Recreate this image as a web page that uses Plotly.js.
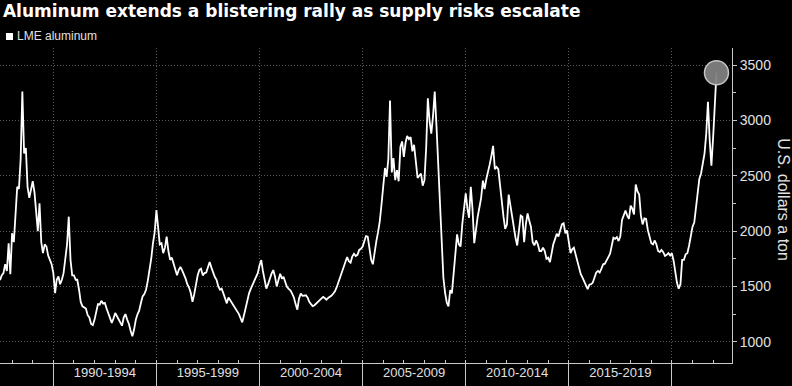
<!DOCTYPE html>
<html>
<head>
<meta charset="utf-8">
<script src="https://cdn.plot.ly/plotly-3.0.1.min.js"></script>
<style>
  html, body { margin: 0; padding: 0; background: #000; }
  #chart { width: 792px; height: 386px; }
</style>
</head>
<body>
<div id="chart"></div>
<script>
// LME aluminum, monthly, U.S. dollars a ton
const startYear = 1987;
const startMonth = 6; // June 1987

const prices1987_1989 = [1557,1600,1620,1700,1640,1890,1610,1980,1900,2160,2400,2380,2650,3260,2700,2750,2400,2300,2380,2450,2350,2200,2000,2250,1900,1800,1880,1860,1780,1740,1700];
const prices1990_1994 = [1620,1440,1560,1590,1520,1560,1620,1740,1880,2130,
                         1740,1600,1600,1560,1560,1470,1360,1320,1310,1300,
                         1240,1220,1160,1150,1200,1280,1340,1335,1370,1345,
                         1350,1300,1260,1220,1170,1210,1260,1230,1200,1165,
                         1145,1220,1250,1200,1160,1100,1050,1110,1200,1250,
                         1280,1350,1410,1430,1470,1550,1640,1750,1890,1990];
const prices1995_1999 = [2190,2050,1880,1890,1800,1850,1950,1820,1740,1760,
                         1710,1640,1600,1650,1675,1645,1610,1570,1520,1490,
                         1440,1360,1430,1530,1600,1650,1660,1600,1620,1625,
                         1670,1720,1670,1625,1585,1560,1500,1470,1480,1437,
                         1400,1347,1400,1375,1340,1315,1295,1275,1250,1210,
                         1175,1240,1310,1400,1440,1480,1515,1545,1575,1620];
const prices2000_2004 = [1690,1738,1640,1560,1480,1520,1580,1615,1648,1590,
                         1500,1560,1615,1570,1587,1540,1497,1478,1465,1435,
                         1400,1340,1290,1390,1435,1415,1415,1420,1400,1360,
                         1340,1322,1330,1345,1355,1372,1388,1405,1395,1380,
                         1396,1406,1418,1436,1458,1495,1540,1590,1632,1680,
                         1705,1765,1728,1715,1770,1795,1775,1785,1830,1840];
const prices2005_2009 = [1860,1915,1955,1950,1840,1740,1700,1830,1910,1990,
                         2090,2240,2380,2570,2490,2650,3180,2530,2660,2460,
                         2550,2450,2760,2810,2670,2800,2860,2830,2850,2720,
                         2780,2600,2480,2500,2520,2410,2460,2760,3200,2990,
                         2880,3040,3260,2950,2570,2170,1800,1580,1440,1350,
                         1320,1467,1437,1620,1760,1970,1880,1860,2060,2200];
const prices2010_2014 = [2340,2200,2120,2400,2200,1890,2030,2130,2215,2300,
                         2455,2380,2470,2530,2600,2680,2770,2560,2580,2560,
                         2410,2240,2130,2020,2060,2330,2230,2150,2060,1940,
                         1870,2020,2140,2130,1900,2060,2160,2090,2040,1900,
                         1870,1915,1880,1820,1820,1850,1820,1750,1760,1720,
                         1800,1880,1925,1975,1950,2005,2060,2070,1980,2005];
const prices2015_2019 = [1920,1800,1835,1850,1790,1730,1665,1610,1580,1545,
                         1500,1475,1515,1520,1535,1580,1625,1640,1625,1660,
                         1700,1705,1730,1765,1795,1880,1940,1930,1945,1910,
                         1950,2100,2150,2185,2140,2110,2230,2200,2150,2420,
                         2360,2330,2140,2060,2115,2110,2010,1950,1890,1880,
                         1915,1880,1820,1810,1830,1810,1775,1785,1800,1780];
const prices2020_2022 = [1800,1730,1625,1530,1480,1520,1740,1740,1790,1800,
                         1870,1960,2040,2080,2210,2360,2470,2520,2600,2700,
                         2880,3168,2820,2590,2850,3200,3430];

const periodCenters = ['1992-07-01','1997-07-01','2002-07-01','2007-07-01','2012-07-01','2017-07-01'];
const periodLabels  = ['1990-1994','1995-1999','2000-2004','2005-2009','2010-2014','2015-2019'];
const yTicks = [1000, 1500, 2000, 2500, 3000, 3500];
const seriesName = 'LME aluminum';

const prices = [].concat(prices1987_1989, prices1990_1994, prices1995_1999, prices2000_2004,
                         prices2005_2009, prices2010_2014, prices2015_2019, prices2020_2022);
const dates = prices.map((_, i) => {
  const m = startMonth - 1 + i;
  const y = startYear + Math.floor(m / 12);
  const mm = (m % 12) + 1;
  return y + '-' + String(mm).padStart(2, '0') + '-01';
});
const last = prices.length - 1;

const xRange = ['1987-06-01', '2022-12-01'];
const gridCol = '#5a5a5a';
const axisCol = '#c8c8c8';
const txtCol = '#e0e0e0';

const traces = [
  {
    x: [dates[last]], y: [prices[last]],
    xaxis: 'x2', yaxis: 'y',
    mode: 'markers', type: 'scatter', showlegend: false, hoverinfo: 'skip',
    marker: { size: 24, color: 'rgba(128,128,128,0.95)', line: { color: '#c4c4c4', width: 1.5 } }
  },
  {
    x: dates, y: prices, name: seriesName,
    type: 'scatter', mode: 'lines', showlegend: false,
    line: { color: '#ffffff', width: 1.8 }
  }
];

const layout = {
  width: 792, height: 386,
  paper_bgcolor: '#000', plot_bgcolor: '#000',
  margin: { l: 0, r: 60, t: 48, b: 23, pad: 0 },
  font: { family: 'Liberation Sans, Arial, sans-serif', color: txtCol },
  title: {
    text: '<b>Aluminum extends a blistering rally as supply risks escalate</b>',
    font: { family: 'DejaVu Sans, sans-serif', size: 17, color: '#ffffff' },
    x: 0.004, xanchor: 'left', xref: 'paper',
    y: 0.972, yanchor: 'middle', yref: 'container'
  },
  xaxis: {
    type: 'date', range: xRange, automargin: false,
    showgrid: true, gridcolor: gridCol, griddash: '1px,2px', gridwidth: 1,
    tickmode: 'linear', tick0: '1990-01-01', dtick: 'M60',
    ticks: 'outside', ticklen: 30, tickcolor: axisCol, tickwidth: 1,
    showticklabels: false,
    minor: { tickmode: 'linear', tick0: '1988-01-01', dtick: 'M12', ticks: 'inside', ticklen: 3, tickcolor: axisCol, showgrid: false },
    showline: true, linecolor: axisCol, linewidth: 1,
    zeroline: false, fixedrange: true
  },
  xaxis2: {
    type: 'date', range: xRange, overlaying: 'x', anchor: 'y', side: 'bottom', automargin: false,
    showgrid: false, showline: false, zeroline: false,
    tickmode: 'array', tickvals: periodCenters, ticktext: periodLabels,
    ticks: '', ticklen: 0,
    tickfont: { size: 13, color: txtCol }
  },
  yaxis: {
    side: 'right', range: [808, 3654], automargin: false,
    tickmode: 'array', tickvals: yTicks, ticktext: yTicks.map(String),
    showgrid: true, gridcolor: gridCol, griddash: '1px,2px', gridwidth: 1,
    ticks: 'outside', ticklen: 4, tickcolor: axisCol,
    minor: { tickmode: 'linear', tick0: 750, dtick: 250, ticks: 'outside', ticklen: 3, tickcolor: axisCol, showgrid: false },
    showline: true, linecolor: axisCol, linewidth: 1,
    tickfont: { size: 14, color: txtCol },
    zeroline: false
  },
  annotations: [
    {
      text: 'U.S. dollars a ton', textangle: 90,
      xref: 'paper', yref: 'paper', x: 1.071, y: 0.517,
      xanchor: 'center', yanchor: 'middle', showarrow: false,
      font: { size: 16, color: txtCol }
    },
    {
      text: seriesName,
      xref: 'paper', yref: 'paper', x: 15 / 732, y: (363 - 36) / 315,
      xanchor: 'left', yanchor: 'middle', showarrow: false,
      font: { size: 12, color: txtCol }
    }
  ],
  shapes: [
    {
      type: 'rect', xref: 'paper', yref: 'paper',
      x0: 6 / 732, x1: 13 / 732, y0: (363 - 40) / 315, y1: (363 - 33) / 315,
      fillcolor: '#ffffff', line: { width: 0 }
    }
  ],
  showlegend: false
};

Plotly.newPlot('chart', traces, layout, { staticPlot: true, displayModeBar: false });
</script>
</body>
</html>
